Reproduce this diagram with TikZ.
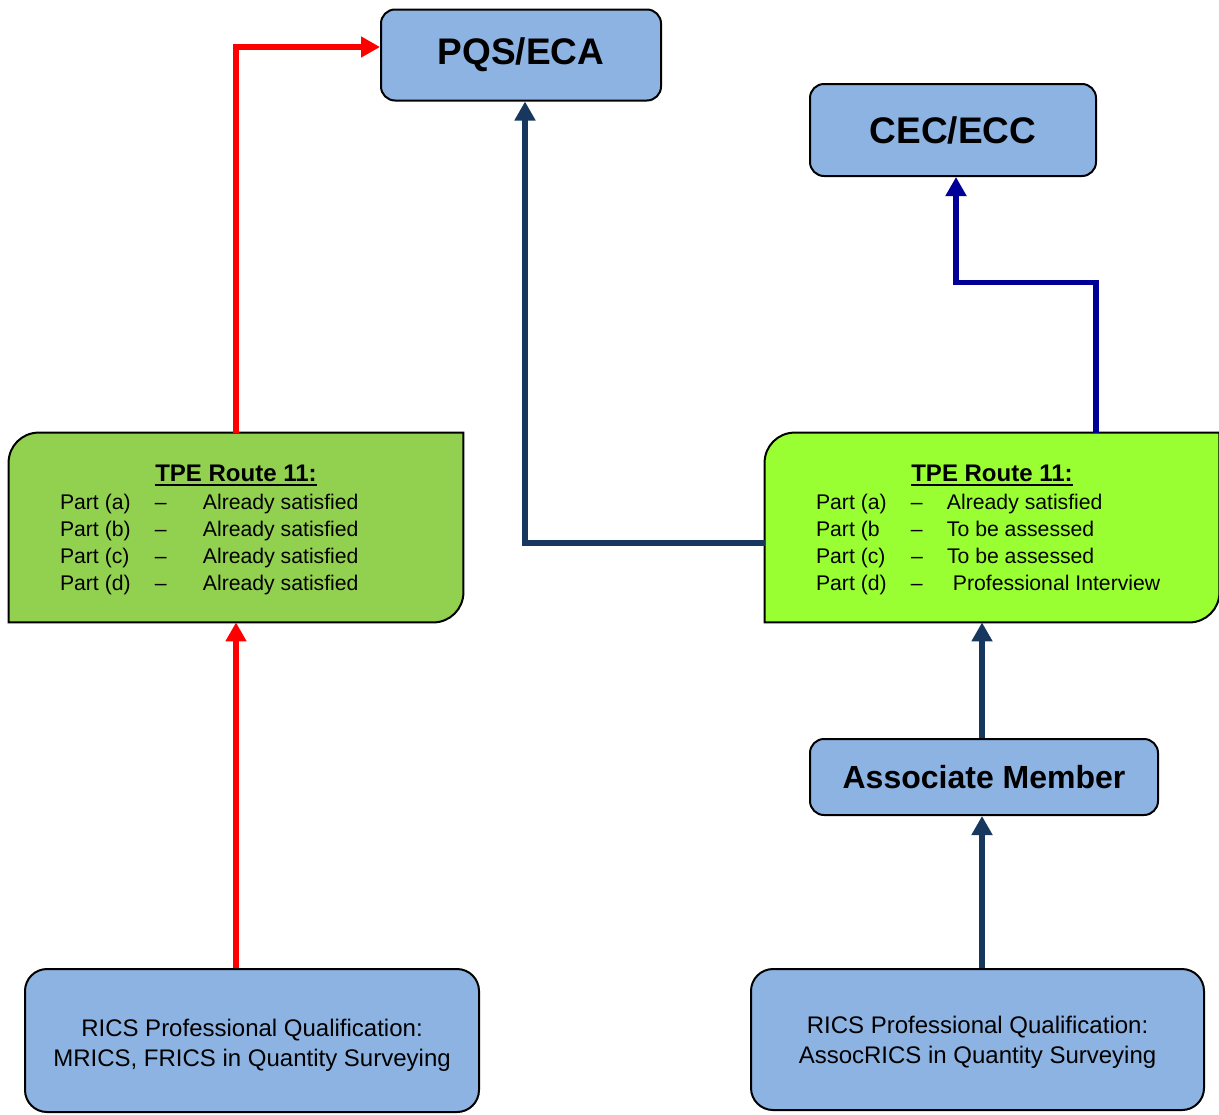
\documentclass[tikz,border=0pt]{standalone}
\usepackage{fontspec}
\setmainfont{Liberation Sans}
\usepackage{xcolor}
\definecolor{myblue}{RGB}{141,179,226}
\definecolor{mygreen}{RGB}{146,208,80}
\definecolor{mylime}{RGB}{153,255,51}
\definecolor{myred}{RGB}{255,0,0}
\definecolor{mynavy}{RGB}{23,55,94}
\definecolor{mydarkblue}{RGB}{0,0,153}
\usetikzlibrary{positioning, arrows.meta, backgrounds}
\newcommand\tpehead[1]{{\fontsize{12}{14}\selectfont\bfseries\setbox0=\hbox{#1}\rule{0pt}{12.45pt}\rlap{\rule[-2.5pt]{\wd0}{1pt}}\box0}}

\begin{document}
\begin{tikzpicture}[x=0.5pt, y=-0.5pt, line join=miter,
		box/.style = {draw, line width=1pt, fill=myblue, rounded corners=7pt, inner sep=0pt, align=center},
		rics/.style = {box, rounded corners=11pt, font=\fontsize{12}{15}\selectfont},
		tpe/.style = {inner sep=0pt, minimum width=227pt, minimum height=94.5pt, font=\fontsize{10.6}{13.5}\selectfont},
		tpeedge/.style = {draw, line width=1pt},
		link/.style = {line width=2.75pt, -{Triangle[width=10pt, length=9.5pt]}}]
		\useasboundingbox (0,0) rectangle (1219,1114);
		% left column
		\node[box, minimum width=140pt, minimum height=45.5pt, font=\fontsize{18.5}{22}\selectfont\bfseries] (pqs) at (521,55) {PQS/ECA};
		\node[tpe] (tpeL) at (236,527.5) {\begin{tabular}{@{\hspace{25.5pt}}p{47.5pt}@{}p{24pt}@{}p{130pt}@{}}
				\multicolumn{3}{@{}c@{}}{\tpehead{TPE Route 11:}}\\[0.5pt]
				Part (a) & – & Already satisfied\\
				Part (b) & – & Already satisfied\\
				Part (c) & – & Already satisfied\\
				Part (d) & – & Already satisfied
			\end{tabular}};
		\node[rics, minimum width=227pt, minimum height=71.5pt] (ricsL) [below=172.8pt of tpeL, xshift=8pt] {\rule{0pt}{13.9pt}RICS Professional Qualification:\\MRICS, FRICS in Quantity Surveying};
		% right column
		\node[rics, minimum width=226.5pt, minimum height=70.5pt] (ricsR) at (977.5,1039.5) {\rule{0pt}{11.9pt}RICS Professional Qualification:\\AssocRICS in Quantity Surveying};
		\node[box, minimum width=174pt, minimum height=38pt, font=\fontsize{16}{19}\selectfont\bfseries] (assoc) [above=76pt of ricsR, xshift=3.25pt] {Associate Member};
		\node[tpe] (tpeR) [above=57.8pt of assoc, xshift=4pt] {\begin{tabular}{@{\hspace{25.5pt}}p{47.5pt}@{}p{18pt}@{}p{136pt}@{}}
				\multicolumn{3}{@{}c@{}}{\tpehead{TPE Route 11:}}\\[0.5pt]
				Part (a) & – & Already satisfied\\
				Part (b & – & To be assessed\\
				Part (c) & – & To be assessed\\
				Part (d) & – & \ Professional Interview
			\end{tabular}};
		\node[box, minimum width=143pt, minimum height=46pt, font=\fontsize{18.5}{22}\selectfont\bfseries] (cec) [above=127.8pt of tpeR, xshift=-19.5pt] {CEC/ECC};
		% outlines of the two route boxes
		\begin{pgfonlayer}{background}
			\path[tpeedge, fill=mygreen] ([yshift=-15pt]tpeL.north west) arc[start angle=180, end angle=90, radius=15pt]
				-- (tpeL.north east) -- ([yshift=15pt]tpeL.south east) arc[start angle=0, end angle=-90, radius=15pt]
				-- (tpeL.south west) -- cycle;
			\path[tpeedge, fill=mylime] ([yshift=-15pt]tpeR.north west) arc[start angle=180, end angle=90, radius=15pt]
				-- (tpeR.north east) -- ([yshift=15pt]tpeR.south east) arc[start angle=0, end angle=-90, radius=15pt]
				-- (tpeR.south west) -- cycle;
		\end{pgfonlayer}
		% connectors
		\draw[link, myred] (tpeL.south |- ricsL.north) -- (tpeL.south);
		\draw[link, myred] (tpeL.north) |- ([yshift=4pt]pqs.west);
		\draw[link, mynavy] ([yshift=-7.75pt]tpeR.west) -| ([xshift=2pt]pqs.south);
		\draw[link, mydarkblue] ([xshift=52pt]tpeR.north) -- ++(0,75pt) -| ([xshift=1.5pt]cec.south);
		\draw[link, mynavy] ([xshift=-1pt]assoc.north) -- ([xshift=-1pt]assoc.north |- tpeR.south);
		\draw[link, mynavy] ([xshift=-1pt]assoc.south |- ricsR.north) -- ([xshift=-1pt]assoc.south);
	\end{tikzpicture}
\end{document}
